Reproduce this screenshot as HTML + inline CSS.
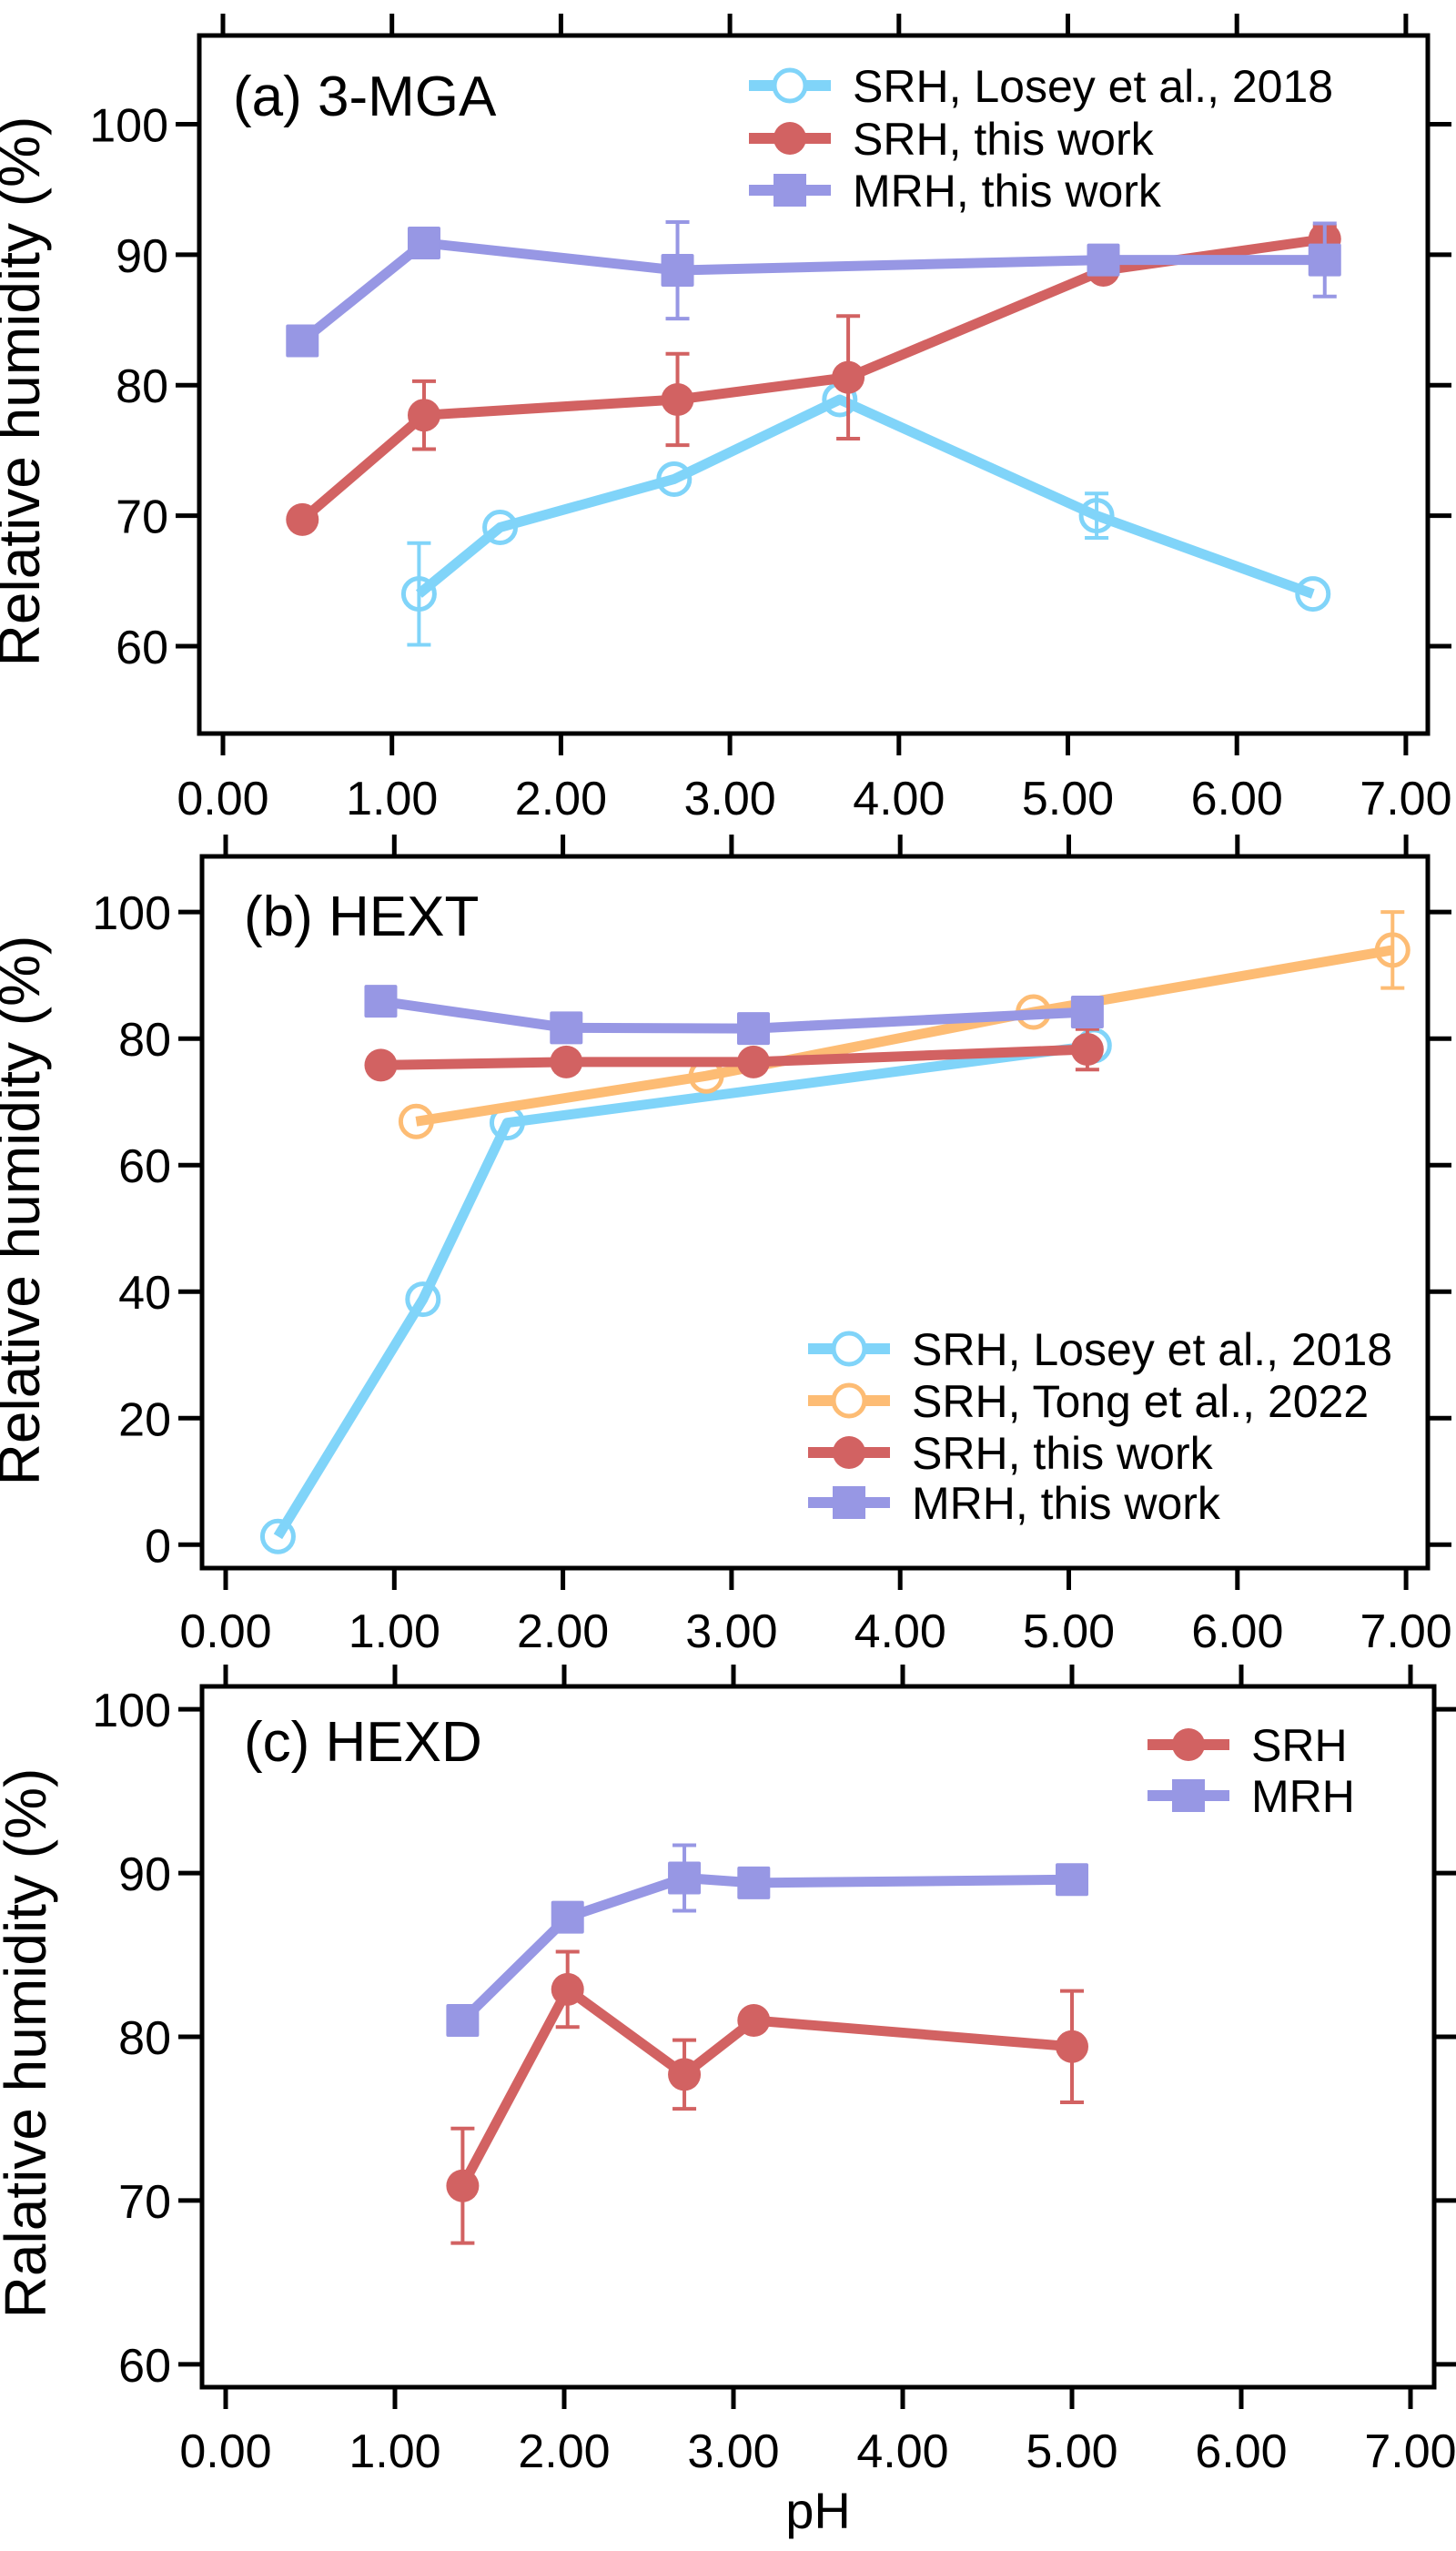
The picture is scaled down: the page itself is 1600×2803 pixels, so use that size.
<!DOCTYPE html>
<html><head><meta charset="utf-8"><style>
html,body{margin:0;padding:0;background:#fff}
svg{display:block}
text{font-family:"Liberation Sans",Arial,sans-serif;fill:#000}
</style></head><body>
<svg id="fig" width="1600" height="2803" viewBox="0 0 1600 2803" xmlns="http://www.w3.org/2000/svg"></svg>
<script>
// ---------- data ----------
const xTicks = [0,1,2,3,4,5,6,7];
const xTickLabels = ["0.00","1.00","2.00","3.00","4.00","5.00","6.00","7.00"];

// panel a (3-MGA)
const aYTicks = [60,70,80,90,100];
const aLoseyX = [1.16,1.64,2.67,3.65,5.17,6.45];
const aLoseyY = [64.0,69.1,72.8,78.9,70.0,64.0];
const aLoseyErr = [3.9,0,0,0,1.7,0];
const aSrhX = [0.47,1.19,2.69,3.70,5.21,6.52];
const aSrhY = [69.7,77.7,78.9,80.6,88.8,91.2];
const aSrhErr = [0,2.6,3.5,4.7,0,1.0];
const aMrhX = [0.47,1.19,2.69,5.21,6.52];
const aMrhY = [83.4,90.9,88.8,89.6,89.6];
const aMrhErr = [0,0,3.7,0,2.8];

// panel b (HEXT)
const bYTicks = [0,20,40,60,80,100];
const bLoseyX = [0.31,1.17,1.67,5.15];
const bLoseyY = [1.3,38.8,66.7,78.9];
const bLoseyErr = [0,0,0,0];
const bTongX = [1.13,2.85,4.79,6.92];
const bTongY = [66.9,74.1,84.2,94.0];
const bTongErr = [0,0,0,6.0];
const bSrhX = [0.92,2.02,3.13,5.11];
const bSrhY = [75.8,76.3,76.3,78.3];
const bSrhErr = [0,1.5,1.5,3.2];
const bMrhX = [0.92,2.02,3.13,5.11];
const bMrhY = [85.9,81.7,81.6,84.2];
const bMrhErr = [0,0,0,0];

// panel c (HEXD)
const cYTicks = [60,70,80,90,100];
const cSrhX = [1.40,2.02,2.71,3.12,5.00];
const cSrhY = [70.9,82.9,77.7,81.0,79.4];
const cSrhErr = [3.5,2.3,2.1,0,3.4];
const cMrhX = [1.40,2.02,2.71,3.12,5.00];
const cMrhY = [81.0,87.3,89.7,89.4,89.6];
const cMrhErr = [0,0,2.0,0,0];

const C_BLUE="#80d4f9", C_RED="#d26262", C_PURP="#9797e4", C_ORG="#fdbc74";
const NS="http://www.w3.org/2000/svg";
const svg=document.getElementById('fig');
function mk(tag,attrs,parent){const e=document.createElementNS(NS,tag);for(const k in attrs)e.setAttribute(k,attrs[k]);(parent||svg).appendChild(e);return e;}

function panel(cfg){
  const g=mk('g',{});
  
  
  const L=cfg.left,R=cfg.right,T=cfg.top,B=cfg.bottom;
  const sx=v=>cfg.x0+(v)*cfg.xs;
  const sy=v=>B-(v-cfg.ymin)/(cfg.ymax-cfg.ymin)*(B-T);
  xTicks.forEach((t,i)=>{
    const x=sx(t);
    const tk=mk('line',{x1:x,x2:x,y1:B,y2:B+24,stroke:'#000','stroke-width':5},g);
    
    
    const tt=mk('line',{x1:x,x2:x,y1:T,y2:T-24,stroke:'#000','stroke-width':5},g);
    
    
    const lb=mk('text',{x:x,y:cfg.xLabelY+19,'font-size':52,'text-anchor':'middle'},g);
    lb.textContent=xTickLabels[i];
    
    
  });
  cfg.yTicks.forEach(t=>{
    const y=sy(t);
    const tk=mk('line',{x1:L-26,x2:L,y1:y,y2:y,stroke:'#000','stroke-width':5},g);
    
    
    const tr=mk('line',{x1:R,x2:R+26,y1:y,y2:y,stroke:'#000','stroke-width':5},g);
    
    
    const lb=mk('text',{x:L-34,y:y+19,'font-size':52,'text-anchor':'end'},g);
    lb.textContent=String(t);
    
    
  });
  const fr=mk('rect',{x:L,y:T,width:R-L,height:B-T,fill:'none',stroke:'#000','stroke-width':5},g);
  
  
  const yt=mk('text',{x:0,y:0,'font-size':cfg.ytSize||64,'text-anchor':'middle',transform:`translate(${cfg.ytX},${cfg.ytY}) rotate(-90)`},g);
  yt.textContent=cfg.ytitle;
  
  
  const pl=mk('text',{x:cfg.labX,y:cfg.labY,'font-size':62},g);
  pl.textContent=cfg.label;
  
  
  cfg.series.forEach(s=>{
    const sg=mk('g',{},g);
    
    
    s.err.forEach((e,i)=>{
      if(!e)return;
      const x=sx(s.xs[i]),y1=sy(s.ys[i]-e),y2=sy(s.ys[i]+e);
      const eb=mk('path',{d:`M${x},${y1}V${y2}M${x-13},${y1}H${x+13}M${x-13},${y2}H${x+13}`,stroke:s.color,'stroke-width':4,fill:'none'},sg);
      
      
    });
    const pts=s.xs.map((x,i)=>sx(x)+','+sy(s.ys[i])).join(' ');
    const ln=mk('polyline',{points:pts,fill:'none',stroke:s.color,'stroke-width':11,'stroke-linejoin':'round'},sg);
    
    
    s.xs.forEach((x,i)=>{
      const cx=sx(x),cy=sy(s.ys[i]);
      let m;
      if(s.marker==='open') m=mk('circle',{cx:cx,cy:cy,r:17,fill:'none',stroke:s.color,'stroke-width':5},sg);
      else if(s.marker==='circle') m=mk('circle',{cx:cx,cy:cy,r:18,fill:s.color},sg);
      else m=mk('rect',{x:cx-18,y:cy-18,width:36,height:36,fill:s.color,rx:2},sg);
      
      
    });
  });
  const lg=mk('g',{},g);
  
  
  cfg.legend.forEach((le,i)=>{
    const y=cfg.legY[i];
    const eg=mk('g',{},lg);
    
    
    mk('line',{x1:cfg.legX,x2:cfg.legX+90,y1:y,y2:y,stroke:le.color,'stroke-width':12},eg);
    const cx=cfg.legX+45;
    if(le.marker==='open') mk('circle',{cx:cx,cy:y,r:17,fill:'#fff',stroke:le.color,'stroke-width':5},eg);
    else if(le.marker==='circle') mk('circle',{cx:cx,cy:y,r:18,fill:le.color},eg);
    else mk('rect',{x:cx-18,y:y-18,width:36,height:36,fill:le.color},eg);
    const t=mk('text',{x:cfg.legX+114,y:y+18,'font-size':50},eg);
    t.textContent=le.text;
  });
}

panel({name:'panel-a-3mga',left:219,right:1569,top:39,bottom:806,x0:245,xs:185.7,ymin:53.3,ymax:106.8,
  yTicks:aYTicks,xLabelY:876,ytitle:'Relative humidity (%)',ytX:43,ytY:430,label:'(a) 3-MGA',labX:256,labY:127,
  series:[
    {name:'series-srh-losey',xs:aLoseyX,ys:aLoseyY,err:aLoseyErr,color:C_BLUE,marker:'open'},
    {name:'series-srh-this-work',xs:aSrhX,ys:aSrhY,err:aSrhErr,color:C_RED,marker:'circle'},
    {name:'series-mrh-this-work',xs:aMrhX,ys:aMrhY,err:aMrhErr,color:C_PURP,marker:'square'}],
  legX:823,legY:[94,152,209],
  legend:[{text:'SRH, Losey et al., 2018',color:C_BLUE,marker:'open'},{text:'SRH, this work',color:C_RED,marker:'circle'},{text:'MRH, this work',color:C_PURP,marker:'square'}]});

panel({name:'panel-b-hext',left:222,right:1569,top:941,bottom:1723,x0:248,xs:185.3,ymin:-3.7,ymax:108.8,
  yTicks:bYTicks,xLabelY:1791,ytitle:'Relative humidity (%)',ytX:43,ytY:1330,label:'(b) HEXT',labX:268,labY:1028,
  series:[
    {name:'series-srh-losey',xs:bLoseyX,ys:bLoseyY,err:bLoseyErr,color:C_BLUE,marker:'open'},
    {name:'series-srh-tong',xs:bTongX,ys:bTongY,err:bTongErr,color:C_ORG,marker:'open'},
    {name:'series-srh-this-work',xs:bSrhX,ys:bSrhY,err:bSrhErr,color:C_RED,marker:'circle'},
    {name:'series-mrh-this-work',xs:bMrhX,ys:bMrhY,err:bMrhErr,color:C_PURP,marker:'square'}],
  legX:888,legY:[1482,1539,1596,1651],
  legend:[{text:'SRH, Losey et al., 2018',color:C_BLUE,marker:'open'},{text:'SRH, Tong et al., 2022',color:C_ORG,marker:'open'},{text:'SRH, this work',color:C_RED,marker:'circle'},{text:'MRH, this work',color:C_PURP,marker:'square'}]});

panel({name:'panel-c-hexd',left:222,right:1576,top:1853,bottom:2623,x0:248,xs:186,ymin:58.6,ymax:101.4,
  yTicks:cYTicks,xLabelY:2692,ytitle:'Ralative humidity (%)',ytX:50,ytY:2245,label:'(c) HEXD',labX:268,labY:1935,
  series:[
    {name:'series-srh',xs:cSrhX,ys:cSrhY,err:cSrhErr,color:C_RED,marker:'circle'},
    {name:'series-mrh',xs:cMrhX,ys:cMrhY,err:cMrhErr,color:C_PURP,marker:'square'}],
  legX:1261,legY:[1917,1973],
  legend:[{text:'SRH',color:C_RED,marker:'circle'},{text:'MRH',color:C_PURP,marker:'square'}]});

const xt=mk('text',{x:899,y:2778,'font-size':56,'text-anchor':'middle'});
xt.textContent='pH';


</script>
</body></html>
